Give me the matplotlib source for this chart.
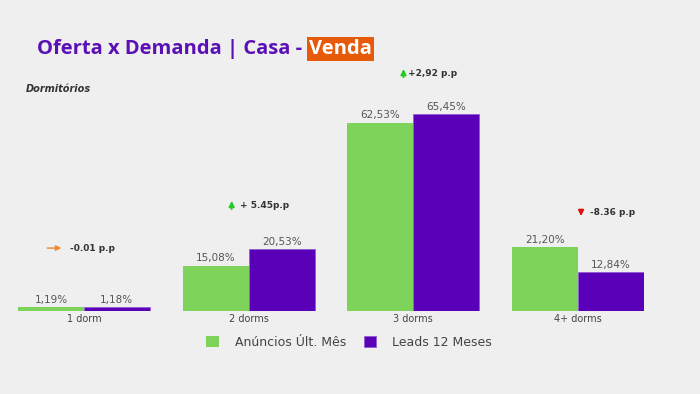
import numpy as np
import matplotlib
matplotlib.use("Agg")
import matplotlib.pyplot as plt

# Dados
categorias = ["1 dorm", "2 dorms", "3 dorms", "4+ dorms"]
anuncios = [1.19, 15.08, 62.53, 21.20]
leads = [1.18, 20.53, 65.45, 12.84]
rotulos_anuncios = ["1,19%", "15,08%", "62,53%", "21,20%"]
rotulos_leads = ["1,18%", "20,53%", "65,45%", "12,84%"]
variacoes = ["-0.01 p.p", "+ 5.45p.p", "+2,92 p.p", "-8.36 p.p"]
direcoes = ["right", "up", "up", "down"]

verde = "#7ed35a"
roxo = "#5a00b9"
fundo = "#efefef"
cinza = "#555555"

fig = plt.figure(figsize=(7, 3.94), dpi=100, facecolor=fundo)
ax = fig.add_axes([18 / 700, 83 / 394, 626 / 700, 0.6495])
ax.set_facecolor(fundo)

x = np.arange(len(categorias))
w = 0.4
b1 = ax.bar(x - w / 2, anuncios, w, color=verde, label="Anúncios Últ. Mês")
b2 = ax.bar(x + w / 2, leads, w, color=roxo, edgecolor="#8f5fd0", linewidth=0.6,
            label="Leads 12 Meses")

for xi, v, t in zip(x - w / 2, anuncios, rotulos_anuncios):
    ax.text(xi, v + 0.8, t, ha="center", va="bottom", fontsize=7.5, color=cinza)
for xi, v, t in zip(x + w / 2, leads, rotulos_leads):
    ax.text(xi, v + 0.8, t, ha="center", va="bottom", fontsize=7.5, color=cinza)

# setas de variação
pos_y = [20.9, 35.2, 79.0, 32.6]
seta_x = [(-0.24, -0.12), -0.103, -0.06, 0.018]
texto_x = [-0.085, -0.055, -0.03, 0.073]
for i, (txt, d, yy) in enumerate(zip(variacoes, direcoes, pos_y)):
    if d == "right":
        x0, x1 = seta_x[i]
        ax.annotate("", xy=(i + x1, yy), xytext=(i + x0, yy),
                    arrowprops=dict(arrowstyle="-|>", color="#f08a2c", lw=1,
                                    mutation_scale=8))
    elif d == "up":
        ax.annotate("", xy=(i + seta_x[i], yy + 2.3), xytext=(i + seta_x[i], yy - 2.3),
                    arrowprops=dict(arrowstyle="-|>", color="#22cc22", lw=1.3,
                                    mutation_scale=8))
    else:
        ax.annotate("", xy=(i + seta_x[i], yy - 2), xytext=(i + seta_x[i], yy + 2),
                    arrowprops=dict(arrowstyle="-|>", color="#dd1111", lw=1.3,
                                    mutation_scale=8))
    ax.text(i + texto_x[i], yy, txt, ha="left", va="center", fontsize=6.5,
            fontweight="bold", color="#333333")

ax.set_xlim(-0.4, 3.4)
ax.set_ylim(0, 85)
ax.set_xticks(x)
ax.set_xticklabels(categorias, fontsize=7, color="#444444")
ax.tick_params(axis="x", length=0, pad=2)
ax.set_yticks([])
for s in ax.spines.values():
    s.set_visible(False)

leg = fig.legend(handles=[b1, b2], loc="center", bbox_to_anchor=(349 / 700, 1 - 342 / 394),
                 ncol=2, frameon=False, fontsize=9, handlelength=1.0, handleheight=1.0,
                 columnspacing=1.4, handletextpad=1.3)
for t in leg.get_texts():
    t.set_color("#444444")

# título
titulo = fig.text(37 / 700, 1 - 49 / 394, "Oferta x Demanda | Casa - ", fontsize=14.5,
                  fontweight="bold", color="#5a10b5", family="Open Sans", va="center")
fig.canvas.draw()
bb = titulo.get_window_extent()
fig.text(bb.x1 / 700 + 0.002, 1 - 49 / 394, "Venda", fontsize=14.5, fontweight="bold",
         color="white", family="Open Sans", va="center",
         bbox=dict(boxstyle="square,pad=0.1", fc="#e65a0a", ec="none"))

fig.text(26 / 700, 1 - 89 / 394, "Dormitórios", fontsize=7, fontweight="bold",
         fontstyle="italic", color="#333333", va="center")

fig.savefig("out.png", dpi=100, facecolor=fundo)
